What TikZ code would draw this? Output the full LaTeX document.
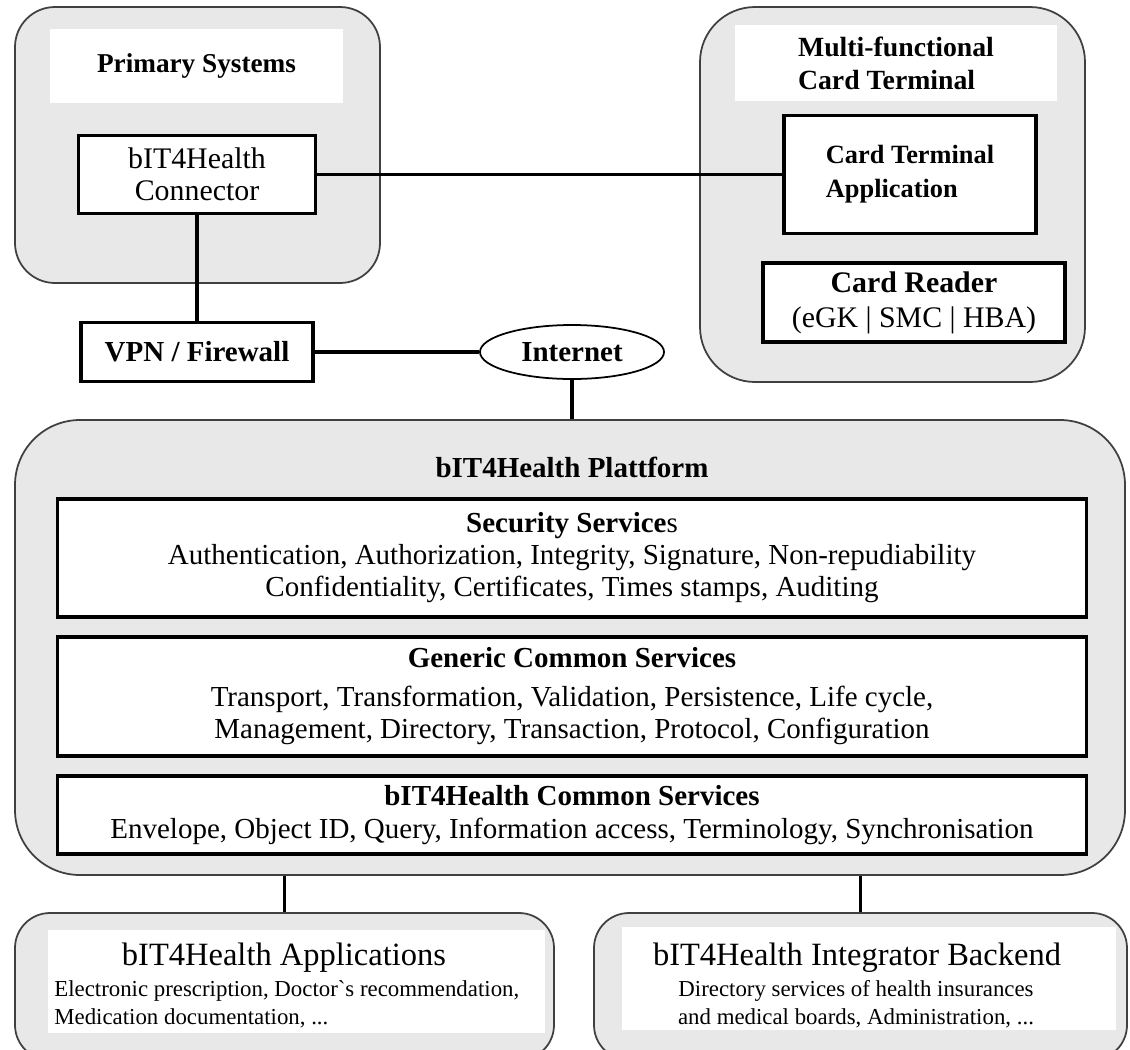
\documentclass[tikz,border=0pt]{standalone}
\usepackage{fontspec}
\setmainfont{Liberation Serif}
\usetikzlibrary{shapes.geometric}

\newdimen\px
\px=0.02cm
\newcommand{\setfs}[2]{\fontsize{#1}{#2}\selectfont}

\begin{document}
\begin{tikzpicture}[x=0.02cm, y=-0.02cm,
    outerbox/.style={draw=black!75, fill=black!9, line width=1pt},
    labelbox/.style={fill=white, inner sep=0pt, align=center},
    innerbox/.style={draw, fill=white, line width=1.8pt, inner sep=0pt, align=center},
    link/.style={line width=2.2pt}]

    % Рамка рисунка
    \useasboundingbox (0,0) rectangle (1130,1049);
    \clip (0,0) rectangle (1130,1049);

    % Primary Systems
    \node[outerbox, rounded corners=40\px, minimum width=365\px, minimum height=276\px] (prim) at (197.5,145) {};
    \node[labelbox, minimum width=293\px, minimum height=74\px, font=\bfseries\setfs{15.5}{18}] (primlbl) at (196.5,66) {Primary Systems};
    \node[innerbox, minimum width=237\px, minimum height=78\px, font=\setfs{17}{18.3}] (conn) at (197,174.5) {bIT4Health\\Connector};

    % Multi-functional Card Terminal
    \node[outerbox, rounded corners=55\px, minimum width=385\px, minimum height=375\px] (mct) at (892.5,194.5) {};
    \node[labelbox, align=left, minimum width=322\px, minimum height=76\px, font=\bfseries\setfs{15.8}{18.8}] (mctlbl) at (896,63) {Multi-functional\\Card Terminal};
    \node[innerbox, align=left, minimum width=252\px, minimum height=118\px, font=\bfseries\setfs{15}{19.3}] (cta) at (910,174.5) {Card Terminal\\Application};
    \node[innerbox, minimum width=302\px, minimum height=79\px, font=\setfs{17}{20}] (reader) at (914,302.5) {\textbf{Card Reader}\\(eGK | SMC | HBA)};

    % VPN / Firewall und Internet
    \node[innerbox, minimum width=232\px, minimum height=59\px, font=\bfseries\setfs{16.5}{18}] (vpn) at (197,352) {VPN / Firewall};
    \node[draw, ellipse, fill=white, line width=1pt, inner sep=0pt, minimum width=184\px, minimum height=54\px, font=\bfseries\setfs{16.5}{18}] (inet) at (572,352) {Internet};

    % bIT4Health Plattform
    \node[outerbox, rounded corners=65\px, minimum width=1110\px, minimum height=455\px] (plat) at (570,647.5) {};
    \node[font=\bfseries\setfs{16.5}{18}] (plattitle) at (572,467) {bIT4Health Plattform};
    \node[innerbox, minimum width=1029\px, minimum height=118\px, font=\setfs{16.5}{18.2}] (sec) at (572,558) {\textbf{Security Service}s\\
        Authentication, Authorization, Integrity, Signature, Non-repudiability\\
        Confidentiality, Certificates, Times stamps, Auditing};
    \node[innerbox, minimum width=1029\px, minimum height=119\px, font=\setfs{16.5}{18.2}] (gen) at (572,696.5) {\textbf{Generic Common Services}\\[4pt]
        Transport, Transformation, Validation, Persistence, Life cycle,\\
        Management, Directory, Transaction, Protocol, Configuration};
    \node[innerbox, minimum width=1029\px, minimum height=78\px, font=\setfs{16.5}{18.2}] (com) at (572,815) {\textbf{bIT4Health Common Services}\\[1pt]
        Envelope, Object ID, Query, Information access, Terminology, Synchronisation};

    % bIT4Health Applications
    \node[outerbox, rounded corners=35\px, minimum width=539\px, minimum height=147\px] (apps) at (284.5,986.5) {};
    \node[labelbox, minimum width=497\px, minimum height=103\px] (appslbl) at (296.5,981.5) {};
    \node[font=\setfs{18.5}{20}] (appstitle) at (284,958) {bIT4Health Applications};
    \node[anchor=west, align=left, inner sep=0pt, font=\setfs{13}{16}] (appstext) at (54,1004) {Electronic prescription, Doctor\textasciigrave s recommendation,\\Medication documentation, ...};

    % bIT4Health Integrator Backend
    \node[outerbox, rounded corners=35\px, minimum width=533\px, minimum height=147\px] (back) at (860.5,986.5) {};
    \node[labelbox, minimum width=494\px, minimum height=103\px] (backlbl) at (869,978.5) {};
    \node[font=\setfs{18.5}{20}] (backtitle) at (857,958) {bIT4Health Integrator Backend};
    \node[align=center, inner sep=0pt, font=\setfs{13}{16}] (backtext) at (856,1004) {Directory services of health insurances\\and medical boards, Administration, ...};

    % Verbindungen
    \draw[link] (conn) -- (cta);
    \draw[link] (conn) -- (vpn);
    \draw[link] (vpn) -- (inet);
    \draw[link] (inet.south) -- (inet.south |- plat.north);
    \draw[link] (apps.north) -- (apps.north |- plat.south);
    \draw[link] (back.north) -- (back.north |- plat.south);
\end{tikzpicture}
\end{document}
